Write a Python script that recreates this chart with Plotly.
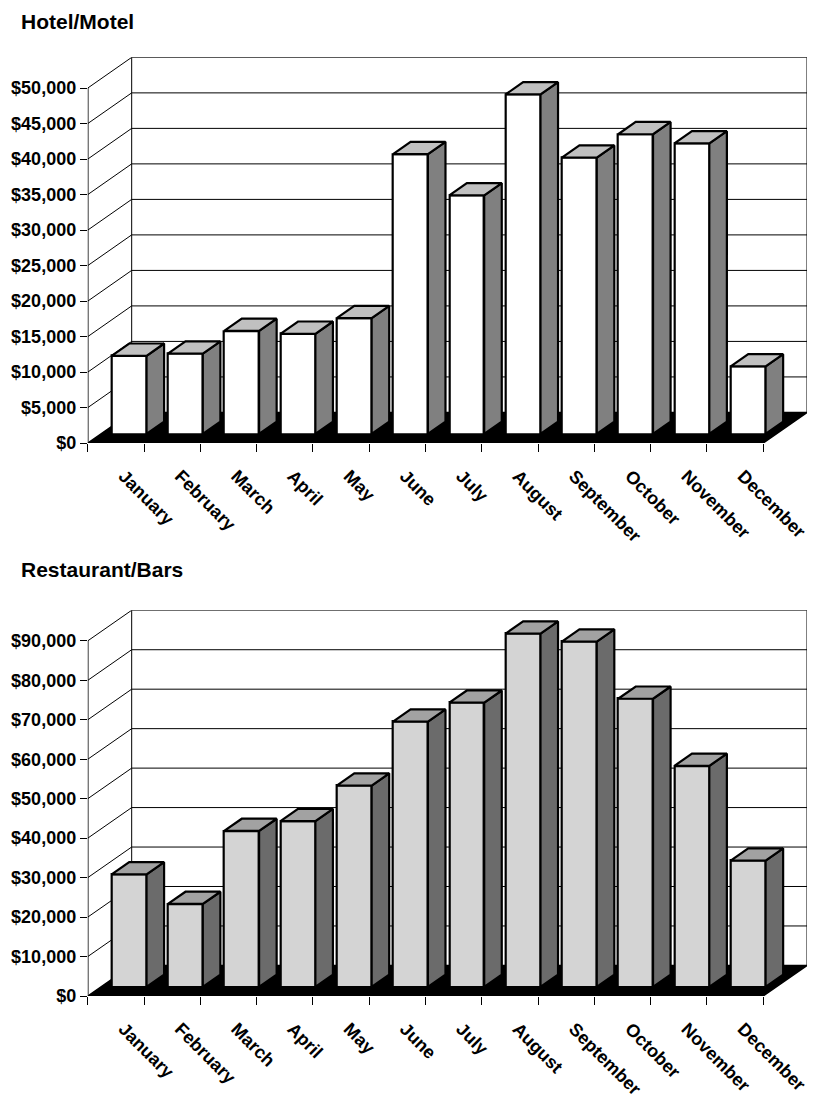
import plotly.graph_objects as go

# ---------------- data ----------------
months = ["January", "February", "March", "April", "May", "June",
          "July", "August", "September", "October", "November", "December"]
hotel_values = [11000, 11300, 14500, 14100, 16300, 39400,
                33600, 47800, 38900, 42200, 40900, 9500]
restaurant_values = [28500, 21000, 39500, 42000, 51000, 67200,
                     72000, 89500, 87500, 73000, 56000, 32000]
hotel_ticks = list(range(0, 50001, 5000))
restaurant_ticks = list(range(0, 90001, 10000))
titles = ["Hotel/Motel", "Restaurant/Bars"]

# ---------------- geometry / style ----------------
W_PX, H_PX = 813, 1099
N = len(months)
DX = 0.78            # depth offset in category units
F1, F2 = 0.30, 0.70  # bar front / back depth fraction
BW = 0.62            # bar width (category units)
LBL_SHIFT = 0.14     # label alignment offset (category units)
FONT = "Liberation Sans, Arial, sans-serif"

panels = [
    dict(vals=hotel_values, ticks=hotel_ticks, top=50000, dy=4320,
         front="#ffffff", side="#808080", topc="#c0c0c0",
         ybot=448, ytop=58, title_y=22),
    dict(vals=restaurant_values, ticks=restaurant_ticks, top=90000, dy=7750,
         front="#d4d4d4", side="#6b6b6b", topc="#a2a2a2",
         ybot=1007, ytop=617, title_y=576),
]

fig = go.Figure()
shapes = []
annotations = []

for k, p in enumerate(panels):
    xa = "x" if k == 0 else "x2"
    ya = "y" if k == 0 else "y2"
    DY = p["dy"]
    top = p["top"]
    XR = N + DX

    # floor
    shapes.append(dict(type="path", xref=xa, yref=ya, layer="below",
                       path=f"M 0 0 L {N} 0 L {XR} {DY} L {DX} {DY} Z",
                       fillcolor="black", line=dict(color="black", width=1.5)))
    # back & side wall gridlines
    for v in p["ticks"]:
        if v == 0:
            continue
        shapes.append(dict(type="line", xref=xa, yref=ya, layer="below",
                           x0=DX, y0=v + DY, x1=XR, y1=v + DY,
                           line=dict(color="black", width=1)))
        shapes.append(dict(type="line", xref=xa, yref=ya, layer="below",
                           x0=0, y0=v, x1=DX, y1=v + DY,
                           line=dict(color="black", width=1)))
    # wall verticals
    for xv in (DX, XR):
        shapes.append(dict(type="line", xref=xa, yref=ya, layer="below",
                           x0=xv, y0=DY, x1=xv, y1=top + DY,
                           line=dict(color="black", width=1)))
    # front y axis line
    shapes.append(dict(type="line", xref=xa, yref=ya, layer="below",
                       x0=0, y0=0, x1=0, y1=top,
                       line=dict(color="black", width=1.5)))

    # bars: front faces
    xs = [i + 0.5 + F1 * DX for i in range(N)]
    fig.add_trace(go.Bar(x=xs, y=p["vals"], base=F1 * DY, width=BW,
                         marker=dict(color=p["front"], line=dict(color="black", width=2.2)),
                         xaxis=xa, yaxis=ya, showlegend=False, hoverinfo="skip"))
    # side & top faces
    ddx = (F2 - F1) * DX
    ddy = (F2 - F1) * DY
    sx, sy, tx, ty = [], [], [], []
    for i, v in enumerate(p["vals"]):
        xl = i + 0.5 - BW / 2 + F1 * DX
        xr = i + 0.5 + BW / 2 + F1 * DX
        b = F1 * DY
        sx += [xr, xr + ddx, xr + ddx, xr, xr, None]
        sy += [b, b + ddy, v + b + ddy, v + b, b, None]
        tx += [xl, xr, xr + ddx, xl + ddx, xl, None]
        ty += [v + b, v + b, v + b + ddy, v + b + ddy, v + b, None]
    fig.add_trace(go.Scatter(x=sx, y=sy, mode="lines", fill="toself",
                             fillcolor=p["side"], line=dict(color="black", width=2.2),
                             xaxis=xa, yaxis=ya, showlegend=False, hoverinfo="skip"))
    fig.add_trace(go.Scatter(x=tx, y=ty, mode="lines", fill="toself",
                             fillcolor=p["topc"], line=dict(color="black", width=2.2),
                             xaxis=xa, yaxis=ya, showlegend=False, hoverinfo="skip"))

    # axes
    ydom = [(H_PX - p["ybot"]) / H_PX, (H_PX - p["ytop"]) / H_PX]
    xdom = [88 / W_PX, 809 / W_PX]
    xkey = "xaxis" if k == 0 else "xaxis2"
    ykey = "yaxis" if k == 0 else "yaxis2"
    fig.layout[xkey] = dict(
        domain=xdom, range=[0, XR], anchor=ya,
        tickmode="array", tickvals=[i + 0.5 + LBL_SHIFT for i in range(N)], ticktext=months,
        tickangle=45, ticks="", showline=False, showgrid=False, zeroline=False,
        ticklabelstandoff=18,
        tickfont=dict(family=FONT, size=18, color="black", weight="bold"),
        minor=dict(tickmode="array", tickvals=list(range(N + 1)), ticks="outside",
                   ticklen=8, tickwidth=1, tickcolor="black", showgrid=False),
        fixedrange=True)
    fig.layout[ykey] = dict(
        domain=ydom, range=[0, top + DY], anchor=xa,
        tickmode="array", tickvals=p["ticks"],
        ticktext=[f"${v:,}" for v in p["ticks"]],
        ticks="outside", ticklen=7, tickwidth=1, tickcolor="black",
        showline=False, showgrid=False, zeroline=False,
        tickfont=dict(family=FONT, size=18, color="black", weight="bold"),
        fixedrange=True)

    annotations.append(dict(text=f"<b>{titles[k]}</b>", xref="paper", yref="paper",
                            x=19 / W_PX, y=1 - p["title_y"] / H_PX,
                            xanchor="left", yanchor="middle", showarrow=False,
                            font=dict(family=FONT, size=21, color="black")))

fig.update_layout(
    width=W_PX, height=H_PX,
    margin=dict(l=0, r=0, t=0, b=0),
    paper_bgcolor="white", plot_bgcolor="white",
    shapes=shapes, annotations=annotations,
    font=dict(family=FONT, size=18, color="black"),
    bargap=0, showlegend=False,
)

fig.write_html("out.html")
